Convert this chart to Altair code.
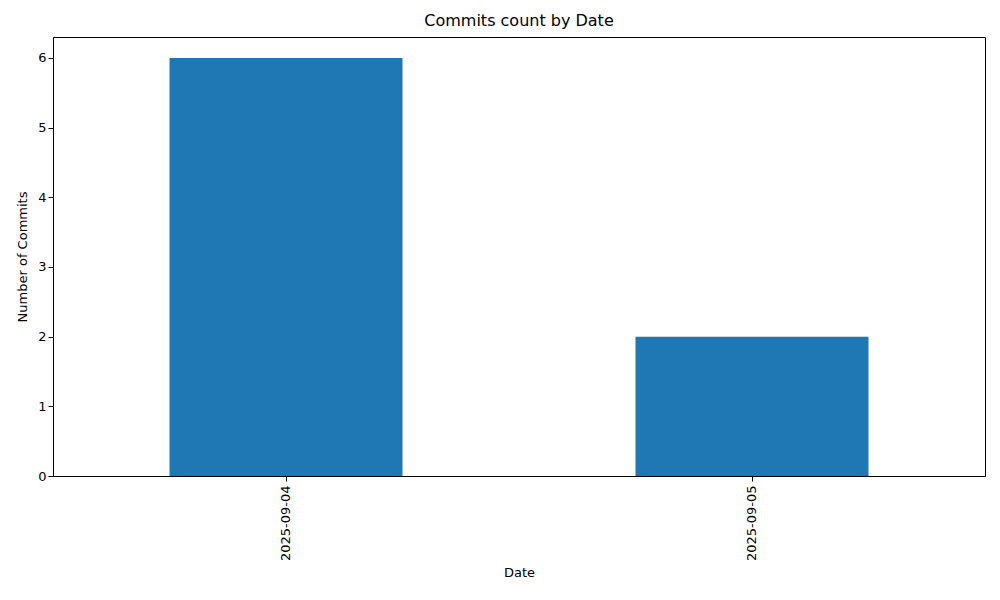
import altair as alt
import pandas as pd

dates = ["2025-09-04", "2025-09-05"]
commits = [6, 2]

df = pd.DataFrame({"Date": dates, "Commits": commits})

font = "DejaVu Sans"

chart = alt.Chart(df).mark_bar(color="#1f77b4").encode(
    x=alt.X("Date:N", title="Date",
            scale=alt.Scale(paddingInner=0.5, paddingOuter=0.25),
            axis=alt.Axis(labelAngle=270, labelFontSize=13, titleFontSize=13,
                          labelColor="black", titleColor="black", tickColor="black",
                          domainColor="black", tickSize=5, labelPadding=4,
                          titleFontWeight="normal", titlePadding=6)),
    y=alt.Y("Commits:Q", title="Number of Commits",
            scale=alt.Scale(domain=[0, 6.3], nice=False),
            axis=alt.Axis(values=[0, 1, 2, 3, 4, 5, 6], grid=False, labelFontSize=13,
                          titleFontSize=13, labelColor="black", titleColor="black",
                          tickColor="black", domainColor="black", tickSize=5,
                          titleFontWeight="normal", titlePadding=8)),
).properties(
    width=932, height=439,
    title=alt.TitleParams("Commits count by Date", fontSize=16, fontWeight="normal",
                          font=font, offset=8),
    autosize=alt.AutoSizeParams(type="none"),
    padding={"left": 45, "top": 29, "right": 7, "bottom": 108},
    background="white",
).configure_view(stroke="black", strokeWidth=1).configure_axis(
    labelFont=font, titleFont=font
)

chart.save("out.html", embed_options={"renderer": "svg", "actions": False})
